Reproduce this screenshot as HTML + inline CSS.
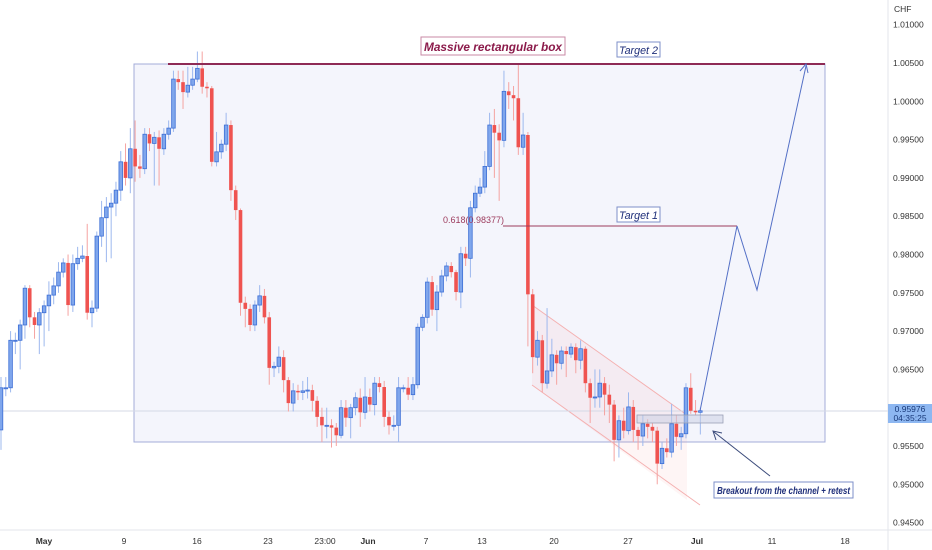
<!DOCTYPE html>
<html><head><meta charset="utf-8"><style>
html,body{margin:0;padding:0;background:#fff;width:932px;height:550px;overflow:hidden;font-family:"Liberation Sans",sans-serif}
svg{display:block}
</style></head><body>
<svg id="chart" width="932" height="550" viewBox="0 0 932 550" xmlns="http://www.w3.org/2000/svg">
<rect x="0" y="0" width="932" height="550" fill="#ffffff"/>
<g id="grid"></g>
<rect x="134" y="64" width="691" height="378" fill="rgba(110,130,220,0.08)" stroke="#a3acd9" stroke-width="1"/>
<polygon points="532,305 687,415 687,500 532,385" fill="rgba(240,140,140,0.09)"/>
<line x1="532" y1="305" x2="687" y2="415" stroke="#f4b0b0" stroke-width="1"/>
<line x1="532" y1="385" x2="700" y2="505" stroke="#f4b0b0" stroke-width="1"/>
<line x1="0" y1="411" x2="888" y2="411" stroke="#d5d9e6" stroke-width="1"/>
<g id="candles"></g>
<line x1="168" y1="64" x2="825" y2="64" stroke="#8e2a55" stroke-width="2"/>
<line x1="503" y1="226" x2="737" y2="226" stroke="#9c3a5c" stroke-width="1"/>
<text x="443" y="223" font-size="9" fill="#9c3a5c">0.618(0.98377)</text>
<rect x="637" y="415" width="86" height="8" fill="rgba(200,205,225,0.5)" stroke="#9aa0b5" stroke-width="0.8"/>
<polyline points="700,411 737,226 757,290 806,66" fill="none" stroke="#5470c6" stroke-width="1"/>
<polyline points="800,71 806,64 808,73" fill="none" stroke="#5470c6" stroke-width="1"/>
<line x1="770" y1="476" x2="714" y2="432" stroke="#3a4a7a" stroke-width="1"/>
<polyline points="716,440 713,431 722,433" fill="none" stroke="#3a4a7a" stroke-width="1"/>
<rect x="421" y="37" width="144" height="18" fill="#fff" stroke="#c98aa6" stroke-width="1"/>
<text x="424" y="51" font-size="12" font-style="italic" font-weight="bold" fill="#8b1a4a" textLength="138" lengthAdjust="spacingAndGlyphs">Massive rectangular box</text>
<rect x="617" y="42" width="43" height="15" fill="#fff" stroke="#7e8fc8" stroke-width="1"/>
<text x="619" y="54" font-size="11" font-style="italic" fill="#1f2f7a" textLength="39" lengthAdjust="spacingAndGlyphs">Target 2</text>
<rect x="617" y="207" width="43" height="15" fill="#fff" stroke="#7e8fc8" stroke-width="1"/>
<text x="619" y="219" font-size="11" font-style="italic" fill="#1f2f7a" textLength="39" lengthAdjust="spacingAndGlyphs">Target 1</text>
<rect x="714" y="482" width="139" height="16" fill="#fff" stroke="#7e8fc8" stroke-width="1"/>
<text x="717" y="494" font-size="10.5" font-style="italic" font-weight="bold" fill="#1f2f7a" textLength="133" lengthAdjust="spacingAndGlyphs">Breakout from the channel + retest</text>
<line x1="888" y1="0" x2="888" y2="550" stroke="#e3e5eb" stroke-width="1"/>
<line x1="0" y1="530" x2="932" y2="530" stroke="#e3e5eb" stroke-width="1"/>
<text x="894" y="12" font-size="8.5" fill="#333">CHF</text>
<g id="yticks"></g>
<g id="xticks"></g>
<rect x="888" y="404" width="44" height="19" fill="#8db7f1"/>
<text x="910" y="412" font-size="8.5" fill="#1a3a7a" text-anchor="middle">0.95976</text>
<text x="910" y="421" font-size="8.5" fill="#1a3a7a" text-anchor="middle">04:35:25</text>
</svg>
<script>
const firstOpen = 0.9571;
const closes = [0.9626,0.9626,0.9688,0.9688,0.9708,0.9756,0.9718,0.9708,0.9724,0.9733,0.9747,0.9759,0.9777,0.9789,0.9734,0.9788,0.9795,0.9798,0.9724,0.9730,0.9824,0.9848,0.9862,0.9867,0.9884,0.9921,0.9900,0.9938,0.9915,0.9912,0.9957,0.9945,0.9953,0.9938,0.9957,0.9965,1.0029,1.0025,1.0012,1.0021,1.0029,1.0043,1.0019,1.0017,0.9921,0.9934,0.9944,0.9969,0.9884,0.9858,0.9737,0.9729,0.9708,0.9734,0.9746,0.9718,0.9652,0.9654,0.9666,0.9636,0.9606,0.9622,0.9620,0.9622,0.9623,0.9609,0.9588,0.9577,0.9577,0.9574,0.9564,0.9600,0.9587,0.9600,0.9613,0.9594,0.9614,0.9604,0.9632,0.9627,0.9588,0.9577,0.9577,0.9626,0.9626,0.9617,0.9630,0.9705,0.9718,0.9764,0.9728,0.9751,0.9772,0.9785,0.9777,0.9751,0.9801,0.9795,0.9861,0.9880,0.9888,0.9915,0.9969,0.9959,0.9949,1.0013,1.0008,1.0004,0.9940,0.9956,0.9748,0.9666,0.9688,0.9632,0.9648,0.9669,0.9658,0.9674,0.9670,0.9679,0.9662,0.9677,0.9632,0.9613,0.9614,0.9632,0.9617,0.9604,0.9558,0.9583,0.9570,0.9601,0.9571,0.9563,0.9579,0.9575,0.9570,0.9527,0.9547,0.9542,0.9579,0.9562,0.9566,0.9626,0.9596,0.9594,0.9596];
const highs = [0.9640,0.9640,0.9700,0.9698,0.9715,0.9760,0.9760,0.9725,0.9730,0.9740,0.9765,0.9770,0.9790,0.9795,0.9800,0.9800,0.9810,0.9812,0.9840,0.9740,0.9830,0.9870,0.9875,0.9880,0.9895,0.9935,0.9945,0.9965,0.9975,0.9930,0.9965,0.9965,0.9960,0.9962,0.9965,0.9975,1.0040,1.0040,1.0040,1.0045,1.0045,1.0065,1.0065,1.0025,1.0020,0.9960,0.9950,0.9985,0.9975,0.9890,0.9860,0.9745,0.9735,0.9740,0.9760,0.9755,0.9725,0.9660,0.9680,0.9675,0.9640,0.9632,0.9630,0.9635,0.9640,0.9630,0.9615,0.9600,0.9600,0.9585,0.9580,0.9610,0.9610,0.9605,0.9620,0.9625,0.9640,0.9625,0.9640,0.9640,0.9635,0.9595,0.9590,0.9640,0.9630,0.9640,0.9640,0.9710,0.9722,0.9770,0.9772,0.9760,0.9780,0.9790,0.9790,0.9780,0.9810,0.9810,0.9870,0.9890,0.9900,0.9935,0.9985,0.9990,0.9970,1.0040,1.0025,1.0020,1.0050,0.9985,0.9960,0.9755,0.9700,0.9695,0.9730,0.9690,0.9675,0.9680,0.9680,0.9684,0.9684,0.9688,0.9680,0.9638,0.9650,0.9650,0.9640,0.9630,0.9610,0.9590,0.9600,0.9620,0.9610,0.9575,0.9590,0.9585,0.9580,0.9575,0.9555,0.9560,0.9605,0.9590,0.9575,0.9632,0.9645,0.9610,0.9600];
const lows = [0.9545,0.9615,0.9620,0.9670,0.9650,0.9690,0.9705,0.9690,0.9670,0.9680,0.9700,0.9735,0.9750,0.9770,0.9720,0.9725,0.9780,0.9790,0.9715,0.9705,0.9725,0.9810,0.9790,0.9795,0.9850,0.9870,0.9890,0.9880,0.9895,0.9900,0.9905,0.9935,0.9890,0.9890,0.9930,0.9950,0.9960,1.0015,0.9990,1.0005,1.0015,1.0025,1.0010,1.0005,0.9915,0.9915,0.9925,0.9935,0.9870,0.9845,0.9720,0.9705,0.9700,0.9700,0.9725,0.9710,0.9630,0.9640,0.9645,0.9620,0.9595,0.9595,0.9610,0.9610,0.9612,0.9595,0.9575,0.9555,0.9560,0.9548,0.9550,0.9560,0.9575,0.9560,0.9590,0.9575,0.9585,0.9595,0.9590,0.9620,0.9575,0.9565,0.9570,0.9555,0.9620,0.9610,0.9610,0.9625,0.9700,0.9710,0.9720,0.9700,0.9745,0.9765,0.9770,0.9740,0.9730,0.9785,0.9770,0.9855,0.9875,0.9880,0.9910,0.9900,0.9870,0.9940,0.9990,0.9975,0.9930,0.9930,0.9680,0.9645,0.9655,0.9620,0.9625,0.9640,0.9630,0.9650,0.9640,0.9665,0.9645,0.9650,0.9620,0.9580,0.9600,0.9600,0.9590,0.9580,0.9530,0.9535,0.9560,0.9565,0.9555,0.9545,0.9550,0.9560,0.9555,0.9500,0.9520,0.9535,0.9535,0.9550,0.9545,0.9560,0.9592,0.9590,0.9565];
const yTickValues = [1.01,1.005,1.0,0.995,0.99,0.985,0.98,0.975,0.97,0.965,0.955,0.95,0.945];
const xTickLabels = ["May","9","16","23","23:00","Jun","7","13","20","27","Jul","11","18"];
const xTickPositions = [44,124,197,268,325,368,426,482,554,628,697,772,845];

const NS = "http://www.w3.org/2000/svg";
function yScale(p){ return 446 - (p - 0.955) * 7660; }
function xScale(i){ return 1 + i * 4.79; }
function mk(tag, attrs){ const e = document.createElementNS(NS, tag); for (const k in attrs) e.setAttribute(k, attrs[k]); return e; }

const yt = document.getElementById('yticks');
yTickValues.forEach(v => {
  const t = mk('text', {x: 893, y: yScale(v) + 3, 'font-size': 8.5, fill: '#333'});
  
  
  t.textContent = v.toFixed(5);
  yt.appendChild(t);
});
const xt = document.getElementById('xticks');
xTickLabels.forEach((lab, k) => {
  const t = mk('text', {x: xTickPositions[k], y: 544, 'font-size': 8.5, fill: '#333', 'text-anchor': 'middle', 'font-weight': (lab === 'May' || lab === 'Jun' || lab === 'Jul') ? 'bold' : 'normal'});
  
  
  t.textContent = lab;
  xt.appendChild(t);
});

const cg = document.getElementById('candles');
let prev = firstOpen;
closes.forEach((c, i) => {
  const o = prev; prev = c;
  const up = c >= o;
  const x = xScale(i);
  const col = up ? '#3d6fd6' : '#ef5350';
  const wick = mk('line', {x1: x, x2: x, y1: yScale(highs[i]), y2: yScale(lows[i]), stroke: up ? '#9db8ee' : '#f5a3a1', 'stroke-width': 1});
  
  
  cg.appendChild(wick);
  const top = yScale(Math.max(o, c)), bot = yScale(Math.min(o, c));
  const body = mk('rect', {x: x - 1.8, y: top, width: 3.6, height: Math.max(1, bot - top), fill: up ? '#7fa6ec' : '#ef5350', stroke: col, 'stroke-width': up ? 0.8 : 0});
  
  
  cg.appendChild(body);
});
</script>
</body></html>
